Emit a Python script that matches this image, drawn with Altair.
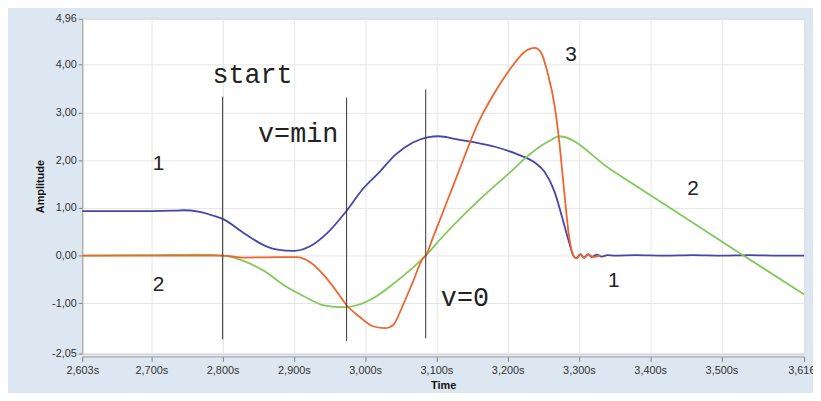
import altair as alt
import pandas as pd

# ---- data ----
t_blue = [2.603, 2.700, 2.731, 2.745, 2.766, 2.786, 2.800, 2.831, 2.859, 2.877, 2.900, 2.922,
          2.946, 2.974, 2.997, 3.020, 3.043, 3.067, 3.089, 3.103, 3.131, 3.150, 3.182, 3.214,
          3.238, 3.252, 3.266, 3.277, 3.286, 3.293, 3.297, 3.302, 3.307, 3.313, 3.318, 3.325,
          3.332, 3.340, 3.350, 3.380, 3.420, 3.460, 3.500, 3.540, 3.580, 3.616]
a_blue = [0.93, 0.93, 0.94, 0.95, 0.92, 0.84, 0.77, 0.46, 0.21, 0.125, 0.10, 0.19,
          0.46, 0.94, 1.40, 1.75, 2.12, 2.37, 2.48, 2.50, 2.43, 2.38, 2.28, 2.12,
          1.95, 1.75, 1.33, 0.77, 0.29, -0.02, -0.05, 0.03, -0.04, 0.03, -0.03, 0.02,
          -0.02, 0.01, 0.0, 0.01, 0.0, 0.01, 0.0, 0.01, 0.0, 0.0]

t_green = [2.603, 2.700, 2.766, 2.800, 2.831, 2.859, 2.886, 2.914, 2.942, 2.970, 2.988, 3.016,
           3.043, 3.071, 3.085, 3.109, 3.159, 3.206, 3.224, 3.247, 3.261, 3.272,
           3.345, 3.529, 3.616]
a_green = [0.0, 0.01, 0.02, 0.0, -0.12, -0.33, -0.62, -0.85, -1.04, -1.08, -1.04, -0.85,
           -0.55, -0.20, 0.0, 0.40, 1.15, 1.78, 2.03, 2.30, 2.42, 2.50,
           1.80, 0.02, -0.81]

t_orange = [2.603, 2.800, 2.831, 2.877, 2.904, 2.922, 2.942, 2.960, 2.974, 2.992, 3.011, 3.029,
            3.039, 3.053, 3.067, 3.081, 3.085, 3.095, 3.113, 3.131, 3.159, 3.182, 3.206,
            3.224, 3.238, 3.247, 3.256, 3.266, 3.272, 3.279, 3.286, 3.293, 3.297, 3.302,
            3.307, 3.313, 3.320, 3.330]
a_orange = [0.0, 0.0, -0.04, -0.03, -0.03, -0.13, -0.41, -0.75, -1.04, -1.28, -1.48, -1.52,
            -1.46, -1.04, -0.55, -0.06, 0.0, 0.37, 1.06, 1.75, 2.79, 3.42, 3.96,
            4.27, 4.35, 4.25, 3.83, 3.13, 2.44, 1.40, 0.42, -0.02, -0.06, 0.02,
            -0.05, 0.02, -0.03, 0.0]

# vertical markers
marker_t = [2.800, 2.974, 3.085]
marker_top = [3.33, 3.31, 3.48]
marker_bottom = [-1.75, -1.79, -1.73]

# annotation texts
mono_text = ["start", "v=min", "v=0"]
mono_t = [2.842, 2.906, 3.140]
mono_a = [3.79, 2.54, -0.90]

num_text = ["1", "2", "3", "2", "1"]
num_t = [2.710, 2.710, 3.289, 3.460, 3.349]
num_a = [1.92, -0.625, 4.21, 1.40, -0.54]

x_ticks = [2.603, 2.7, 2.8, 2.9, 3.0, 3.1, 3.2, 3.3, 3.4, 3.5, 3.616]
y_ticks = [4.96, 4.5, 4.0, 3.5, 3.0, 2.5, 2.0, 1.5, 1.0, 0.5, 0.0, -0.5, -1.0, -1.5, -2.05]

series_names = ["1", "2", "3"]
series_colors = ["#4646a8", "#82c85a", "#f0642d"]

# ---- build tables ----
rows = []
for name, ts, vs in [("1", t_blue, a_blue), ("2", t_green, a_green), ("3", t_orange, a_orange)]:
    for i, (t, v) in enumerate(zip(ts, vs)):
        rows.append({"series": name, "t": t, "a": v, "order": i})
lines_df = pd.DataFrame(rows)
markers_df = pd.DataFrame({"t": marker_t, "top": marker_top, "bottom": marker_bottom})
mono_df = pd.DataFrame({"t": mono_t, "a": mono_a, "label": mono_text})
num_df = pd.DataFrame({"t": num_t, "a": num_a, "label": num_text})

x_scale = alt.Scale(domain=[2.603, 3.616], nice=False, zero=False)
y_scale = alt.Scale(domain=[-2.05, 4.96], nice=False, zero=False)

x_axis = alt.Axis(
    values=x_ticks,
    labelExpr="replace(format(datum.value, '.3f'), '.', ',') + 's'",
    title="Time",
    labelOverlap=False,
    labelFlush=False,
    offset=3,
    tickSize=5,
    labelPadding=3,
    titlePadding=4,
    grid=True,
)
y_axis = alt.Axis(
    values=y_ticks,
    labelExpr="replace(replace(format(datum.value, '.2f'), '.', ','), '\u2212', '-')",
    title="Amplitude",
    labelOverlap=False,
    labelFlush=False,
    tickSize=4,
    labelPadding=2,
    titlePadding=6,
    grid=True,
)

lines = alt.Chart(lines_df).mark_line(strokeWidth=1.8, interpolate="monotone").encode(
    x=alt.X("t:Q", scale=x_scale, axis=x_axis),
    y=alt.Y("a:Q", scale=y_scale, axis=y_axis),
    color=alt.Color("series:N", scale=alt.Scale(domain=series_names, range=series_colors), legend=None),
    order="order:Q",
    detail="series:N",
)

rules = alt.Chart(markers_df).mark_rule(color="#333333", strokeWidth=1).encode(
    x="t:Q", y="top:Q", y2="bottom:Q"
)

mono_labels = alt.Chart(mono_df).mark_text(
    font="Liberation Mono", fontSize=27, color="#222222", align="center", baseline="middle"
).encode(x="t:Q", y="a:Q", text="label:N")

num_labels = alt.Chart(num_df).mark_text(
    font="Liberation Sans", fontSize=21, color="#222222", align="center", baseline="middle"
).encode(x="t:Q", y="a:Q", text="label:N")

chart = alt.layer(lines, rules, mono_labels, num_labels).properties(
    width=729,
    height=338,
    autosize=alt.AutoSizeParams(type="none"),
    padding={"left": 75, "top": 9, "right": 9, "bottom": 38},
    background="#dce7f1",
).configure_view(
    fill="white", stroke="#c0c0c0"
).configure_axis(
    labelFont="Liberation Sans",
    labelFontSize=11,
    labelColor="#333333",
    titleFont="Liberation Sans",
    titleFontSize=11,
    titleFontWeight="bold",
    titleColor="#111111",
    gridColor="#e6e6e6",
    gridWidth=1,
    domainColor="#a0a0a0",
    tickColor="#808080",
)

chart.save("out.html", embed_options={"renderer": "svg", "actions": False})
